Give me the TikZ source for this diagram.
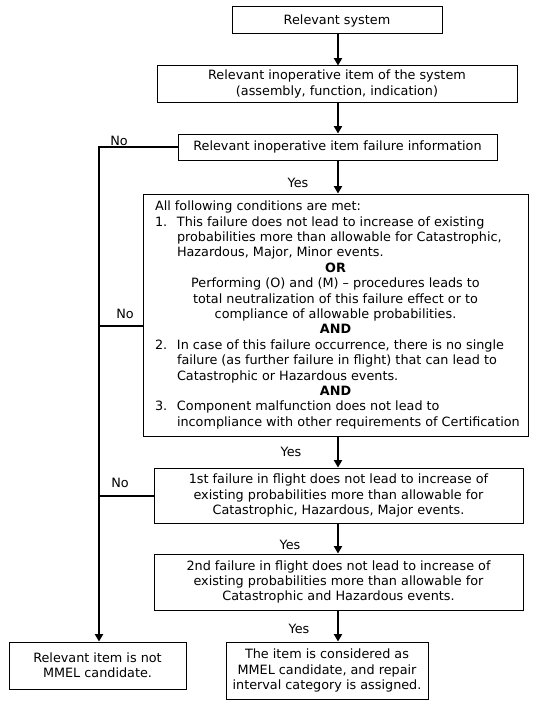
\documentclass[tikz,border=0pt]{standalone}
\usepackage{fontspec}
\setmainfont{DejaVu Sans}
\usetikzlibrary{arrows.meta,calc}
\newcommand\Ll[1]{\hbox to \hsize{#1\hss}}
\newcommand\Lc[1]{\hbox to \hsize{\hss#1\hss}}
\newcommand\Li[2]{\hbox to \hsize{\hbox to 16.5pt{#1\hss}#2\hss}}
\begin{document}
\begin{tikzpicture}[x=0.75pt,y=-0.75pt,
  font=\fontsize{9.6pt}{11.4pt}\selectfont,
  box/.style={draw, line width=0.75pt, align=center, inner sep=0pt},
  arr/.style={line width=1.5pt, line join=miter, -{Triangle[width=6pt,length=5.5pt]}},
  con/.style={line width=1.5pt},
  lbl/.style={inner sep=0pt}]
\useasboundingbox (0,0) rectangle (546,710);
\fill[white] (0,0) rectangle (546,710);
\coordinate (cx) at (338,0);
\coordinate (lx) at (99,0);

\node[box, minimum width=157.5pt, minimum height=20.25pt] (b1) at (337,20.5) {Relevant system};
\node[box, minimum width=270pt, minimum height=27pt] (b2) at (337,84) {Relevant inoperative item of the system\\(assembly, function, indication)};
\node[box, minimum width=239.25pt, minimum height=19.5pt] (b3) at (337.5,147) {Relevant inoperative item failure information};
\node[box, minimum width=288.75pt, minimum height=181.5pt] (b4) at (335.5,315) {\vbox{\hsize=270.75pt \baselineskip=11.55pt
  \Ll{All following conditions are met:}
  \Li{1.}{This failure does not lead to increase of existing}
  \Li{}{probabilities more than allowable for Catastrophic,}
  \Li{}{Hazardous, Major, Minor events.}
  \Lc{\textbf{OR}}
  \Lc{Performing (O) and (M) -- procedures leads to}
  \Lc{total neutralization of this failure effect or to}
  \Lc{compliance of allowable probabilities.}
  \Lc{\textbf{AND}}
  \Li{2.}{In case of this failure occurrence, there is no single}
  \Li{}{failure (as further failure in flight) that can lead to}
  \Li{}{Catastrophic or Hazardous events.}
  \Lc{\textbf{AND}}
  \Li{3.}{Component malfunction does not lead to}
  \Li{}{incompliance with other requirements of Certification}}};
\node[box, minimum width=276.75pt, minimum height=41.25pt] (b5) at (338.5,495.5) {1st failure in flight does not lead to increase of\\existing probabilities more than allowable for\\Catastrophic, Hazardous, Major events.};
\node[box, minimum width=276.75pt, minimum height=42pt] (b6) at (338.5,582) {2nd failure in flight does not lead to increase of\\existing probabilities more than allowable for\\Catastrophic and Hazardous events.};
\node[box, minimum width=132.75pt, minimum height=35.25pt] (b7) at (97.5,665.5) {Relevant item is not\\MMEL candidate.};
\node[box, minimum width=151.5pt, minimum height=42.75pt] (b8) at (327,670.5) {The item is considered as\\MMEL candidate, and repair\\interval category is assigned.};

\draw[arr] (b1.south -| cx) -- (b2.north -| cx);
\draw[arr] (b2.south -| cx) -- (b3.north -| cx);
\draw[arr] (b3.south -| cx) -- (b4.north -| cx);
\draw[arr] (b4.south -| cx) -- (b5.north -| cx);
\draw[arr] (b5.south -| cx) -- (b6.north -| cx);
\draw[arr] (b6.south -| cx) -- (b8.north -| cx);

\coordinate (n2) at (b4.west |- 0,326);
\draw[arr] (b3.west) -- (b3.west -| lx) -- (b7.north -| lx);
\draw[con] (n2) -- (n2 -| lx);
\draw[con] (b5.west) -- (b5.west -| lx);

\node[lbl] (no1) at (119,141) {No};
\node[lbl] (no2) at (125,314) {No};
\node[lbl] (no3) at (120,483) {No};
\node[lbl] (yes1) at (298,183) {Yes};
\node[lbl] (yes2) at (291,452) {Yes};
\node[lbl] (yes3) at (290,545) {Yes};
\node[lbl] (yes4) at (299,629) {Yes};
\end{tikzpicture}
\end{document}
